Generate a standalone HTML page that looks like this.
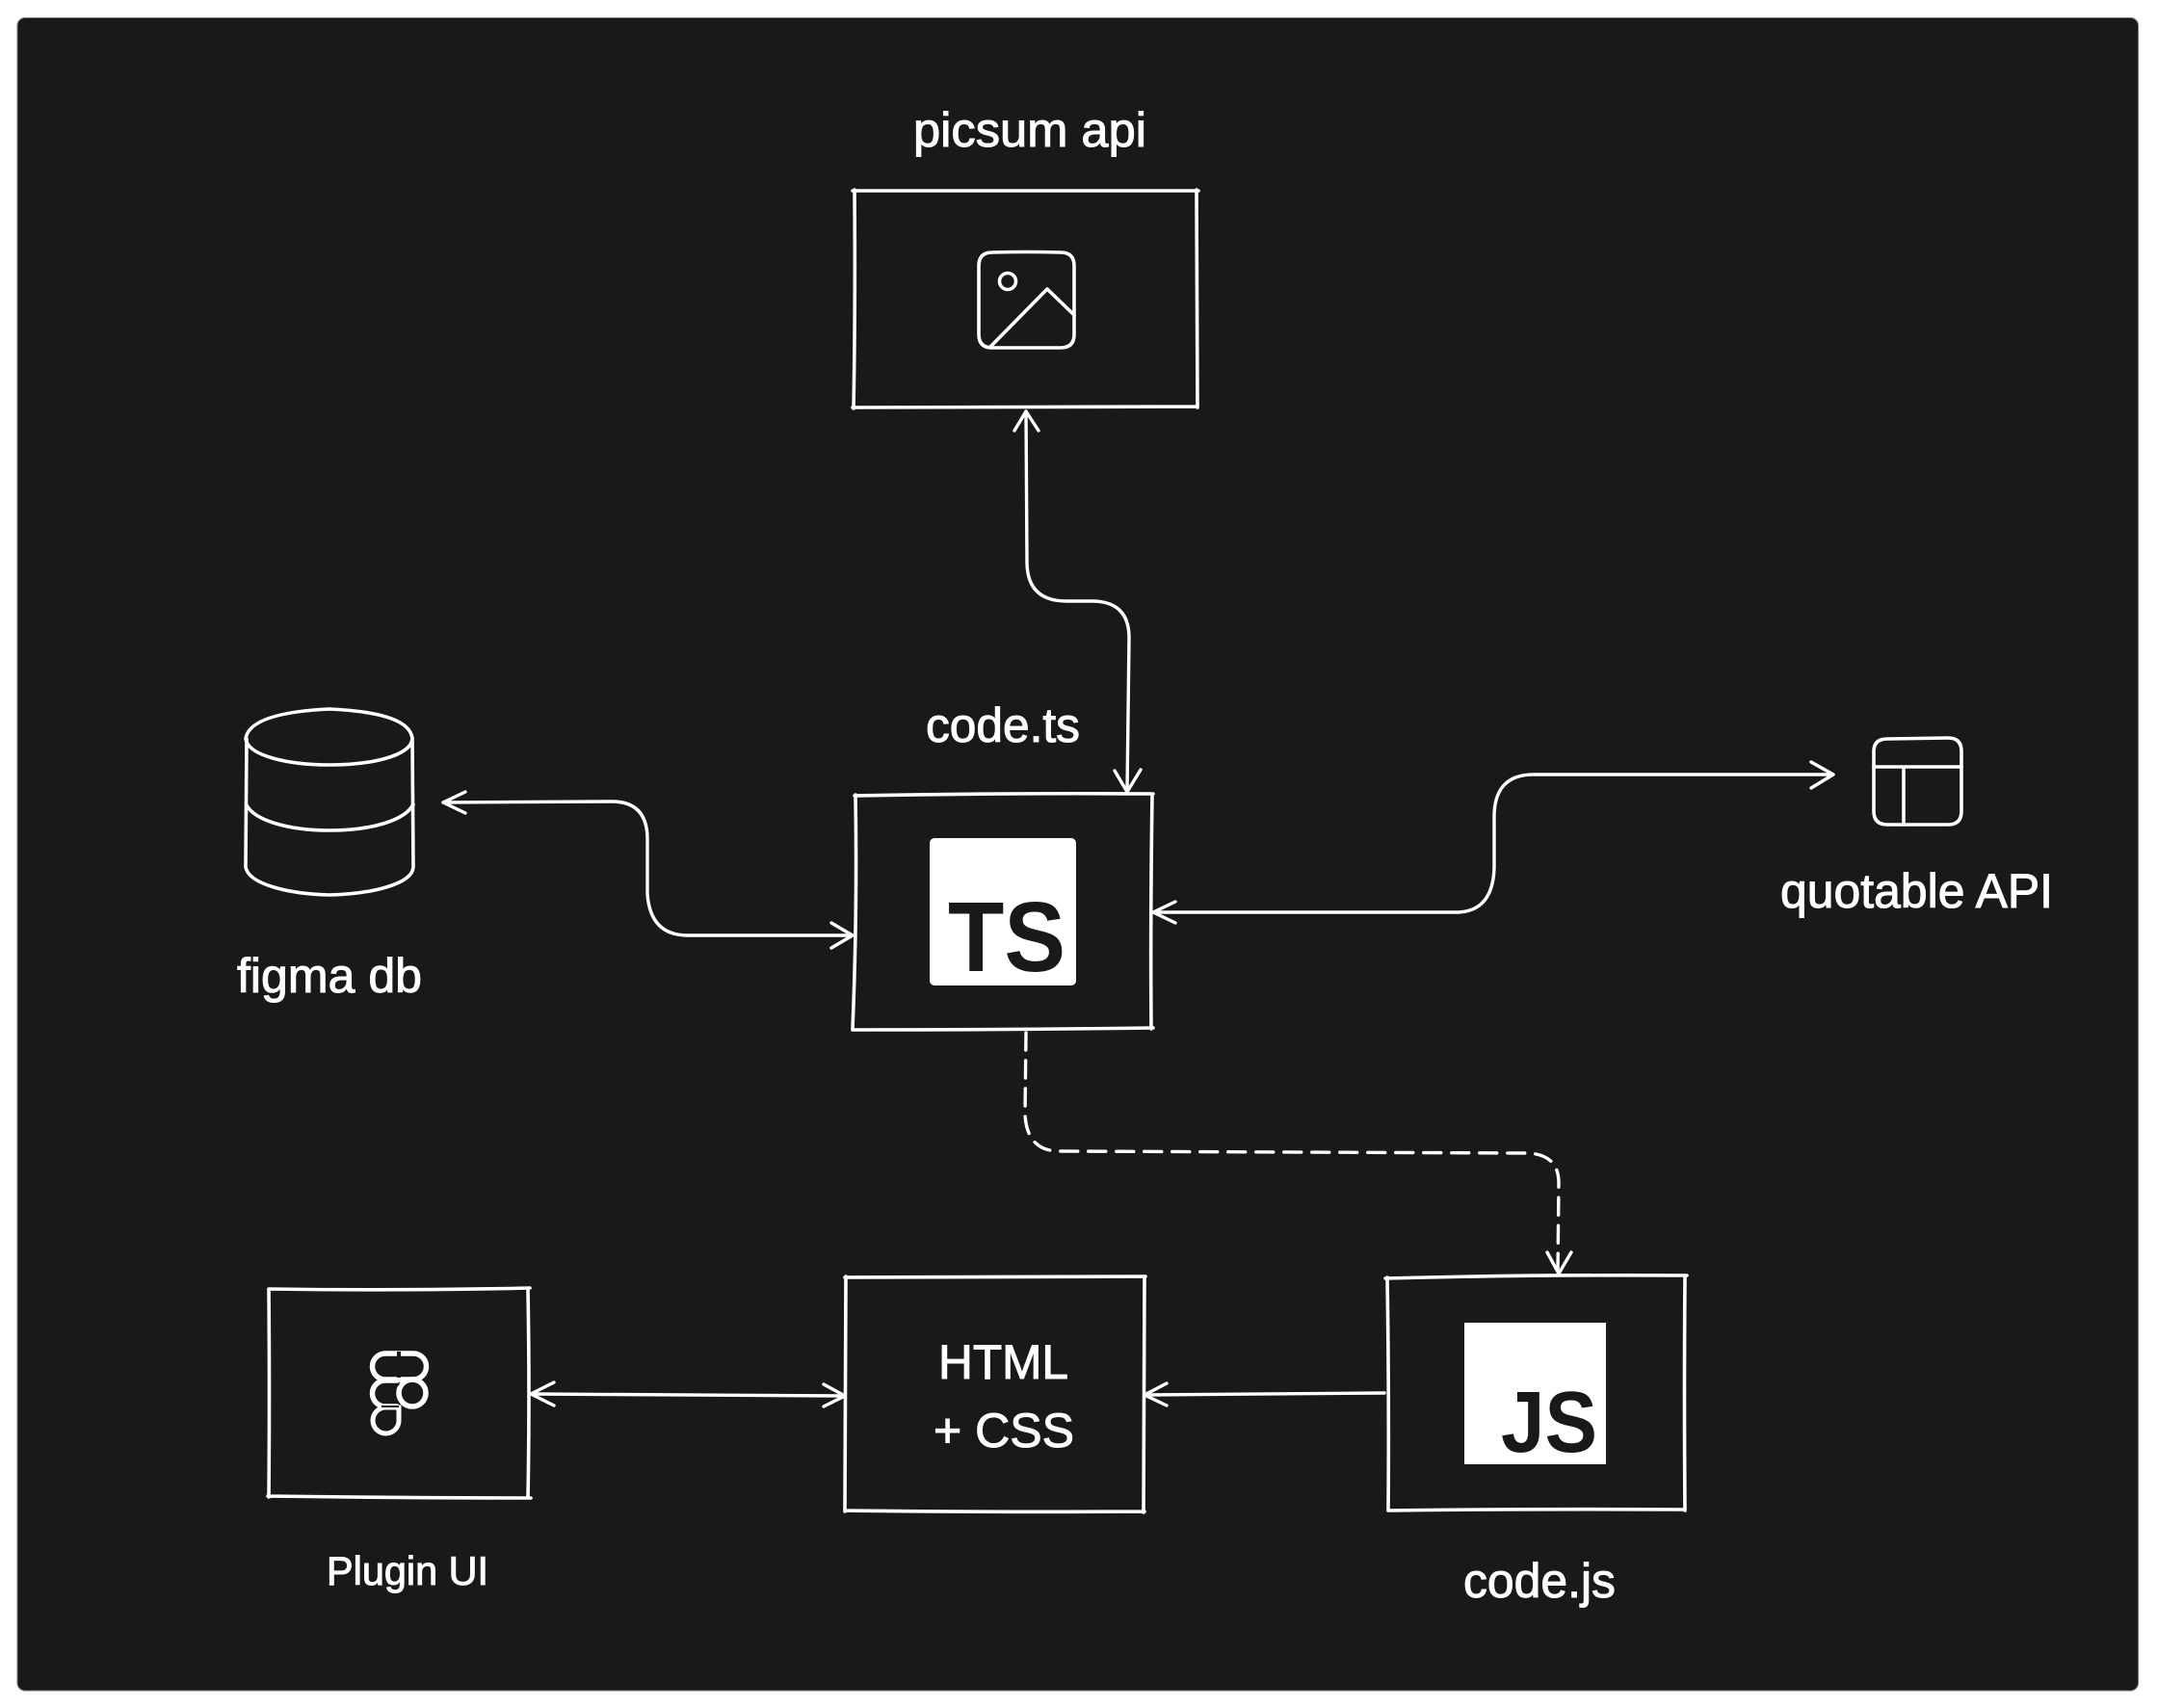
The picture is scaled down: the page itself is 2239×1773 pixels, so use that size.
<!DOCTYPE html>
<html><head><meta charset="utf-8"><style>
html,body{margin:0;padding:0;background:#fff}
svg{display:block}
.s{fill:none;stroke:#fff;stroke-width:3.600;stroke-linecap:round;stroke-linejoin:round}
.c{fill:none;stroke:#fff;stroke-width:3.400;stroke-linecap:round;stroke-linejoin:round}
text{font-family:"Liberation Sans",sans-serif;fill:#fff;stroke:#fff;stroke-width:1}
.b{font-weight:bold;fill:#191919;stroke:none}
</style></head><body>
<svg width="2239" height="1773" viewBox="0 0 2239 1773" xmlns="http://www.w3.org/2000/svg">
<rect x="0" y="0" width="2239" height="1773" fill="#fff"/>
<rect x="18" y="18.500" width="2201.500" height="1736.500" rx="8" fill="#191919" stroke="#777" stroke-width="1"/>

<!-- picsum -->
<path class="s" d="M885 198 Q1060 198 1244 198 M887 197 Q888 320 886 424 M1242 197 Q1242 310 1243 423 M885 423 Q1060 422 1243 422"/>
<path class="s" d="M1030 262 Q1065 261 1101 262 Q1115 262 1115 276 L1115 347 Q1115 361 1101 361 L1030 361 Q1016 361 1016 347 L1016 276 Q1016 262 1030 262 Z"/>
<circle class="s" cx="1046" cy="292" r="8.500"/>
<path class="s" d="M1028 360 L1087 300 L1115 327"/>
<text x="948" y="152" font-size="50" textLength="242" lengthAdjust="spacingAndGlyphs">picsum api</text>

<!-- TS box -->
<path class="s" d="M887 826 Q1040 823 1197 824 M888 825 Q890 950 885 1068 M1196 825 Q1194 950 1195 1068 M885 1069 Q1040 1069 1197 1067"/>
<rect x="965" y="870" width="152" height="153" rx="5" fill="#fff"/>
<text class="b" x="984" y="1008" font-size="103" textLength="122" lengthAdjust="spacingAndGlyphs">TS</text>
<text x="961" y="770" font-size="50" textLength="160" lengthAdjust="spacingAndGlyphs">code.ts</text>

<!-- JS box -->
<path class="s" d="M1438 1327 Q1590 1323 1751 1324 M1440 1326 Q1442 1450 1441 1568 M1749 1325 Q1748 1450 1749 1568 M1441 1568 Q1590 1566 1749 1567"/>
<rect x="1520" y="1373" width="147" height="147" fill="#fff"/>
<text class="b" x="1558" y="1507" font-size="90" textLength="100" lengthAdjust="spacingAndGlyphs">JS</text>
<text x="1519" y="1658" font-size="50" textLength="158" lengthAdjust="spacingAndGlyphs">code.js</text>

<!-- HTML box -->
<path class="s" d="M877 1326 Q1030 1325 1189 1325 M878 1325 Q878 1450 877 1569 M1188 1325 Q1188 1450 1187 1570 M877 1568 Q1030 1570 1188 1569"/>
<text x="974" y="1431" font-size="50" textLength="135" lengthAdjust="spacingAndGlyphs">HTML</text>
<text x="969" y="1502" font-size="50" textLength="146" lengthAdjust="spacingAndGlyphs">+ CSS</text>

<!-- Plugin UI -->
<path class="s" d="M279 1338 Q420 1340 550 1337 M279 1338 Q280 1450 279 1554 M548 1338 Q550 1450 548 1555 M278 1553 Q420 1555 551 1555"/>
<g fill="none" stroke="#fff" stroke-width="5.500">
<path d="M414 1405 L400 1405 A13.500 13.500 0 0 0 400 1432 L414 1432"/>
<path d="M414 1405 L429 1405 A13.500 13.500 0 0 1 429 1432 L414 1432"/>
<path d="M414 1433 L400 1433 A13.500 13.500 0 0 0 400 1460 L414 1460"/>
<circle cx="428" cy="1446" r="14"/>
<path d="M414 1461 L400 1461 A13.500 13.500 0 1 0 414 1474 Z" stroke-width="5"/>
</g>
<path d="M414 1403 L414 1430" stroke="#191919" stroke-width="4" fill="none"/>
<path d="M414 1436 A14 14 0 0 0 414 1457" stroke="#191919" stroke-width="2.500" fill="none"/>
<path d="M396 1460 L414 1460" stroke="#191919" stroke-width="2" fill="none"/>
<text x="339" y="1645" font-size="42" textLength="168" lengthAdjust="spacingAndGlyphs">Plugin UI</text>

<!-- db -->
<path class="s" d="M255 767 C258 745 300 738 342 736 C385 738 426 745 428 767 C426 785 385 794 342 794 C300 794 258 785 255 767 Z"/>
<path class="s" d="M256 767 L255 900 C258 918 300 928 342 929 C385 928 428 918 429 900 L428 767"/>
<path class="s" d="M256 836 C265 852 300 862 342 862 C385 862 420 852 429 835"/>
<text x="246" y="1030" font-size="50" textLength="192" lengthAdjust="spacingAndGlyphs">figma db</text>

<!-- table -->
<path class="s" d="M1959 767 L2022 766 Q2036 766 2036 780 L2036 842 Q2036 856 2022 856 L1959 856 Q1945 856 1945 842 L1945 780 Q1945 767 1959 767 Z"/>
<path class="s" d="M1945 796 L2036 796 M1976 796 L1976 856"/>
<text x="1848" y="942" font-size="50" textLength="283" lengthAdjust="spacingAndGlyphs">quotable API</text>

<!-- connectors -->
<path class="c" d="M1065 427 L1066 585 Q1067 624 1107 624 L1135 624 Q1172 625 1172 662 L1170 821"/>
<path class="c" d="M1053 447 L1065 427 L1078 447 M1157 800 L1170 822 L1184 799"/>

<path class="c" d="M460 833 L635 832 Q672 832 672 871 L672 928 Q675 971 714 971 L884 971"/>
<path class="c" d="M483 822 L460 833 L483 844 M863 958 L885 971 L863 984"/>

<path class="c" d="M1198 947 L1514 947 Q1550 945 1551 900 L1551 850 Q1550 804 1592 804 L1902 804"/>
<path class="c" d="M1220 936 L1197 947 L1220 958 M1880 791 L1903 804 L1880 818"/>

<path class="c" stroke-dasharray="18 11" d="M1065 1072 L1064 1157 Q1066 1195 1100 1195 L1585 1197 Q1618 1198 1618 1228 L1617 1320"/>
<path class="c" d="M1606 1300 L1618 1322 L1631 1300"/>

<path class="c" d="M552 1447 L876 1449"/>
<path class="c" d="M575 1435 L551 1447 L575 1459 M855 1437 L877 1449 L855 1460"/>

<path class="c" d="M1189 1448 L1437 1446"/>
<path class="c" d="M1211 1436 L1188 1448 L1211 1459"/>
</svg>
</body></html>
